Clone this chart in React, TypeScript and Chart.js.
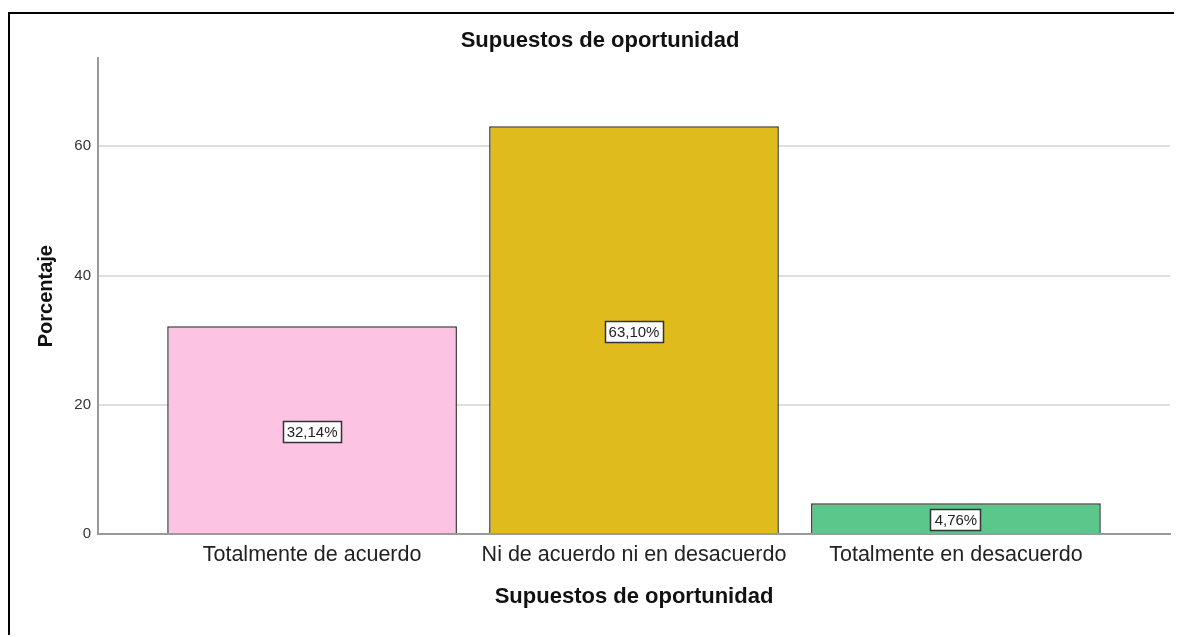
import React, { useEffect, useRef } from "react";
import { Chart, registerables } from "chart.js";

Chart.register(...registerables);

const chartTitle = "Supuestos de oportunidad";
const xTitle = "Supuestos de oportunidad";
const yTitle = "Porcentaje";
const categories = [
  "Totalmente de acuerdo",
  "Ni de acuerdo ni en desacuerdo",
  "Totalmente en desacuerdo",
];
const percentages = [32.14, 63.1, 4.76];
const barColors = ["#fdc3e2", "#e0bb1e", "#5bc78a"];
const yTicks = [0, 20, 40, 60];
const yMax = 73.6;

const FONT = '"Liberation Sans", Arial, sans-serif';

const labelPlugin = {
  id: "barValueLabels",
  afterDatasetsDraw(chart: any) {
    const ctx = chart.ctx;
    const meta = chart.getDatasetMeta(0);
    ctx.save();
    ctx.font = `15px ${FONT}`;
    ctx.textAlign = "center";
    ctx.textBaseline = "middle";
    meta.data.forEach((bar: any, i: number) => {
      const { x, y, base } = bar.getProps(["x", "y", "base"], true);
      const cy = (y + base) / 2 + 2;
      const text = percentages[i].toFixed(2).replace(".", ",") + "%";
      const w = Math.round(ctx.measureText(text).width + 8);
      const h = 22;
      const left = Math.round(x - w / 2);
      const top = Math.round(cy - h / 2);
      ctx.fillStyle = "#ffffff";
      ctx.fillRect(left, top, w, h);
      ctx.strokeStyle = "#333333";
      ctx.lineWidth = 1.5;
      ctx.strokeRect(left + 0.5, top + 0.5, w - 1, h - 1);
      ctx.fillStyle = "#222222";
      ctx.fillText(text, x, cy + 1);
    });
    ctx.restore();
  },
};

export default function App() {
  const ref = useRef<HTMLCanvasElement>(null);

  useEffect(() => {
    if (!ref.current) return;
    const chart = new Chart(ref.current, {
      type: "bar",
      data: {
        datasets: [
          {
            data: percentages.map((v, i) => ({ x: i, y: v })),
            backgroundColor: barColors,
            borderColor: "#333333",
            borderWidth: 1.5,
            barPercentage: 0.9,
            categoryPercentage: 1,
          },
        ],
      },
      options: {
        animation: false,
        responsive: false,
        layout: { padding: { top: 0, left: 20, right: 10, bottom: 21 } },
        plugins: {
          legend: { display: false },
          tooltip: { enabled: false },
          title: {
            display: true,
            text: chartTitle,
            color: "#111111",
            font: { family: FONT, size: 22, weight: "bold" },
            padding: { top: 14, bottom: 4 },
          },
        },
        scales: {
          x: {
            type: "linear",
            offset: false,
            min: -0.665,
            max: 2.665,
            afterBuildTicks: (scale: any) => {
              scale.ticks = categories.map((_, i) => ({ value: i }));
            },
            afterFit: (scale: any) => {
              scale.height = 80;
            },
            grid: { display: false, drawTicks: false, offset: false },
            border: { display: true, color: "#9a9a9a", width: 2 },
            ticks: {
              autoSkip: false,
              maxRotation: 0,
              padding: 8,
              color: "#222222",
              font: { family: FONT, size: 21.5 },
              callback: (value: any) => categories[value as number] ?? "",
            },
            title: {
              display: true,
              text: xTitle,
              color: "#111111",
              font: { family: FONT, size: 22, weight: "bold" },
              padding: { top: 4, bottom: 4 },
            },
          },
          y: {
            min: 0,
            max: yMax,
            afterBuildTicks: (scale: any) => {
              scale.ticks = yTicks.map((v) => ({ value: v }));
            },
            afterFit: (scale: any) => {
              scale.width = 68;
            },
            grid: { color: "#dedede", lineWidth: 2, drawTicks: false },
            border: { display: true, color: "#9a9a9a", width: 2 },
            ticks: {
              padding: 7,
              color: "#333333",
              font: { family: FONT, size: 15 },
            },
            title: {
              display: true,
              text: yTitle,
              color: "#111111",
              font: { family: FONT, size: 20, weight: "bold" },
              padding: { top: 4, bottom: 4 },
            },
          },
        },
      } as any,
      plugins: [labelPlugin],
    });
    return () => chart.destroy();
  }, []);

  return (
    <div style={{ paddingTop: 4 }}>
      <div
        style={{
          borderTop: "2px solid #000",
          borderLeft: "2px solid #000",
          width: 1170,
          height: 621,
        }}
      >
        <canvas ref={ref} width={1170} height={621} style={{ display: "block" }} />
      </div>
    </div>
  );
}
